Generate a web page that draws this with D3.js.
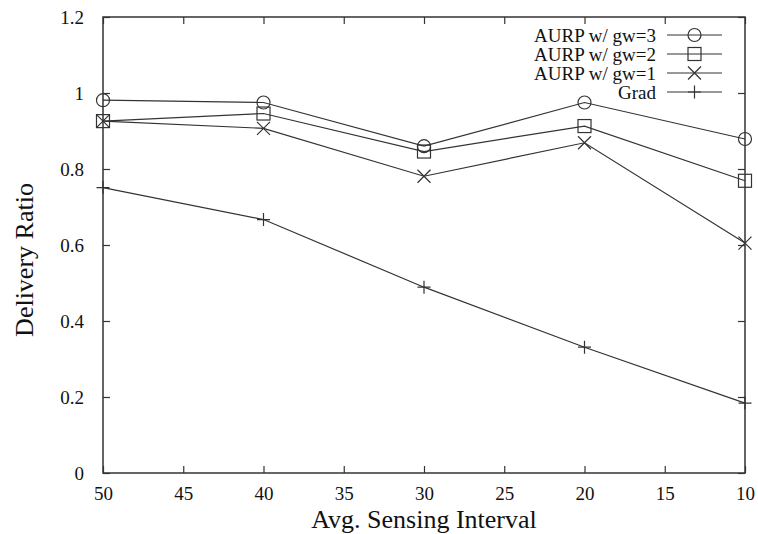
<!DOCTYPE html>
<html>
<head>
<meta charset="utf-8">
<script src="https://cdn.jsdelivr.net/npm/d3@7"></script>
<style>
  body { margin: 0; background: #fff; }
  svg text { font-family: "Liberation Serif", "Times New Roman", serif; fill: #111; }
</style>
</head>
<body>
<div id="chart-area"></div>
<script>
// Data
var intervals = [50, 40, 30, 20, 10];
var gw3 = [0.981, 0.975, 0.860, 0.975, 0.879];
var gw2 = [0.926, 0.946, 0.846, 0.913, 0.769];
var gw1 = [0.926, 0.907, 0.781, 0.869, 0.605];
var grad = [0.751, 0.667, 0.489, 0.331, 0.184];
var seriesNames = ["AURP w/ gw=3", "AURP w/ gw=2", "AURP w/ gw=1", "Grad"];
var xTicks = [50, 45, 40, 35, 30, 25, 20, 15, 10];
var yTicks = [0, 0.2, 0.4, 0.6, 0.8, 1, 1.2];

var margin = { left: 103, right: 13, top: 17, bottom: 61 };
var width = 758 - margin.left - margin.right,
    height = 534 - margin.top - margin.bottom;

var svg = d3.select("#chart-area")
    .append("svg")
        .attr("width", 758)
        .attr("height", 534);
var g = svg.append("g")
    .attr("transform", "translate(" + margin.left + "," + margin.top + ")");

// Scales
var x = d3.scaleLinear().domain([50, 10]).range([0, width]);
var y = d3.scaleLinear().domain([0, 1.2]).range([height, 0]);

var ink = "#333";
var serif = "'Liberation Serif', 'Times New Roman', serif";

// Ticks on all four sides, pointing inward
g.append("g")
    .attr("transform", "translate(0," + height + ")")
    .call(d3.axisBottom(x).tickValues(xTicks).tickSize(-7).tickPadding(14)
        .tickFormat(function(d){ return d; }))
    .call(styleAxis);
g.append("g")
    .call(d3.axisTop(x).tickValues(xTicks).tickSize(-7).tickFormat(""))
    .call(styleAxis);
g.append("g")
    .call(d3.axisLeft(y).tickValues(yTicks).tickSize(-7).tickPadding(19)
        .tickFormat(function(d){ return d3.format("")(d); }))
    .call(styleAxis);
g.append("g")
    .attr("transform", "translate(" + width + ",0)")
    .call(d3.axisRight(y).tickValues(yTicks).tickSize(-7).tickFormat(""))
    .call(styleAxis);

function styleAxis(sel) {
    sel.attr("font-family", null).attr("font-size", null);
    sel.select(".domain").remove();
    sel.selectAll("line").attr("stroke", ink).attr("stroke-width", 1.2);
    sel.selectAll("text")
        .style("font-family", serif)
        .style("font-size", "19px")
        .attr("fill", "#111");
}

// Frame
g.append("rect")
    .attr("width", width)
    .attr("height", height)
    .attr("fill", "none")
    .attr("stroke", ink)
    .attr("stroke-width", 1.5);

// Axis labels
g.append("text")
    .attr("x", width / 2)
    .attr("y", height + 55)
    .style("font-family", serif)
    .style("font-size", "26px")
    .attr("text-anchor", "middle")
    .text("Avg. Sensing Interval");
svg.append("text")
    .attr("transform", "translate(33,260) rotate(-90)")
    .style("font-family", serif)
    .style("font-size", "26px")
    .attr("text-anchor", "middle")
    .text("Delivery Ratio");

// Marker shapes (open, gnuplot style)
function drawMarker(sel, kind) {
    var s = 6.5;
    if (kind == "circle") {
        sel.append("circle").attr("r", s);
    } else if (kind == "square") {
        sel.append("rect").attr("x", -s).attr("y", -s)
            .attr("width", 2 * s).attr("height", 2 * s);
    } else if (kind == "cross") {
        sel.append("path").attr("d", "M" + (-s) + "," + (-s) + "L" + s + "," + s +
            "M" + (-s) + "," + s + "L" + s + "," + (-s));
    } else {
        sel.append("path").attr("d", "M" + (-s) + ",0L" + s + ",0M0," + (-s) + "L0," + s);
    }
    sel.selectAll("circle, rect, path")
        .attr("fill", "none")
        .attr("stroke", ink)
        .attr("stroke-width", 1.2);
}

var series = [
    { name: seriesNames[0], values: gw3, marker: "circle" },
    { name: seriesNames[1], values: gw2, marker: "square" },
    { name: seriesNames[2], values: gw1, marker: "cross" },
    { name: seriesNames[3], values: grad, marker: "plus" }
];

var line = d3.line()
    .x(function(d){ return x(d[0]); })
    .y(function(d){ return y(d[1]); });

series.forEach(function(s){
    var pts = intervals.map(function(v, i){ return [v, s.values[i]]; });
    g.append("path")
        .datum(pts)
        .attr("d", line)
        .attr("fill", "none")
        .attr("stroke", ink)
        .attr("stroke-width", 1.2);
    pts.forEach(function(p){
        var m = g.append("g")
            .attr("transform", "translate(" + x(p[0]) + "," + y(p[1]) + ")");
        drawMarker(m, s.marker);
    });
});

// Legend
var legend = svg.append("g").attr("transform", "translate(656,35)");
series.forEach(function(s, i){
    var row = legend.append("g")
        .attr("transform", "translate(0," + (i * 19) + ")");
    row.append("text")
        .attr("x", 0)
        .attr("y", 6.5)
        .style("font-family", serif)
        .style("font-size", "19px")
        .attr("text-anchor", "end")
        .text(s.name);
    row.append("line")
        .attr("x1", 11).attr("x2", 66)
        .attr("stroke", ink)
        .attr("stroke-width", 1.2);
    var m = row.append("g").attr("transform", "translate(38.5,0)");
    drawMarker(m, s.marker);
});
</script>
</body>
</html>
